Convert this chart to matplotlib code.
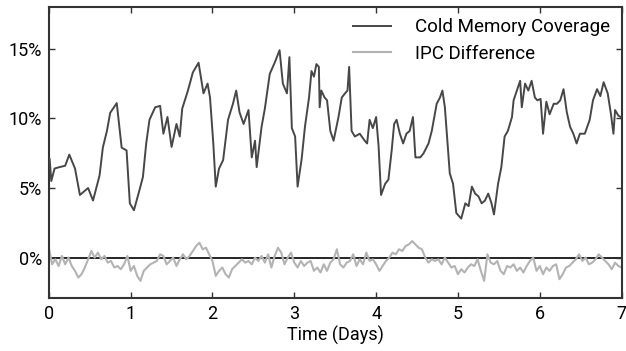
import numpy as np
import matplotlib
matplotlib.use("Agg")
import matplotlib.pyplot as plt
from matplotlib.ticker import FuncFormatter

plt.rcParams['font.family'] = ['Roboto', 'DejaVu Sans']

# Cold Memory Coverage (%): time in days, value in percent
cold_days = [0.00, 0.01, 0.03, 0.07, 0.13, 0.20, 0.25, 0.32, 0.38, 0.48, 0.54, 0.62, 0.66, 0.71, 0.75,
             0.83, 0.89, 0.95, 0.99, 1.04, 1.11, 1.15, 1.19, 1.23, 1.30, 1.36, 1.40, 1.45, 1.50, 1.56,
             1.60, 1.63, 1.70, 1.76, 1.83, 1.87, 1.89, 1.94, 1.97, 2.01, 2.04, 2.08, 2.13, 2.19, 2.25,
             2.29, 2.33, 2.38, 2.44, 2.48, 2.52, 2.54, 2.60, 2.64, 2.70, 2.76, 2.82, 2.86, 2.91, 2.94,
             2.97, 3.01, 3.04, 3.09, 3.13, 3.18, 3.21, 3.24, 3.27, 3.30, 3.31, 3.33, 3.37, 3.40, 3.44,
             3.48, 3.54, 3.58, 3.62, 3.65, 3.67, 3.70, 3.74, 3.80, 3.86, 3.89, 3.92, 3.96, 4.00, 4.03,
             4.06, 4.11, 4.15, 4.19, 4.22, 4.25, 4.29, 4.33, 4.37, 4.41, 4.45, 4.48, 4.54, 4.58, 4.64,
             4.68, 4.74, 4.78, 4.81, 4.84, 4.87, 4.90, 4.94, 4.98, 5.04, 5.09, 5.13, 5.17, 5.21, 5.25,
             5.29, 5.33, 5.37, 5.41, 5.44, 5.49, 5.53, 5.57, 5.61, 5.66, 5.68, 5.72, 5.76, 5.78, 5.82,
             5.86, 5.90, 5.94, 5.97, 6.01, 6.04, 6.08, 6.12, 6.17, 6.21, 6.25, 6.29, 6.33, 6.37, 6.41,
             6.45, 6.49, 6.55, 6.61, 6.65, 6.70, 6.74, 6.78, 6.83, 6.87, 6.90, 6.92, 6.96, 6.99]
cold_values = [7.1, 7.1, 5.5, 6.4, 6.5, 6.6, 7.4, 6.4, 4.5, 5.0, 4.1, 5.9, 7.9, 9.1, 10.4,
               11.1, 7.9, 7.7, 3.9, 3.4, 4.9, 5.8, 8.2, 9.9, 10.8, 10.9, 8.9, 10.1, 7.95, 9.6,
               8.7, 10.7, 12.0, 13.3, 14.0, 12.5, 11.8, 12.5, 11.5, 8.2, 5.1, 6.4, 7.0, 9.9, 11.05,
               12.0, 10.45, 9.6, 10.6, 7.2, 8.4, 6.5, 9.4, 10.7, 13.2, 14.0, 14.9, 12.5, 11.8, 14.4,
               9.3, 8.7, 5.1, 7.1, 9.4, 11.5, 13.4, 13.0, 13.9, 13.7, 10.8, 12.0, 11.5, 11.3, 9.1,
               8.4, 10.1, 11.5, 11.8, 12.0, 13.7, 9.1, 8.7, 8.9, 8.4, 8.2, 9.9, 9.3, 10.1, 8.0,
               4.5, 5.3, 5.6, 7.7, 9.6, 9.9, 8.9, 8.2, 8.9, 9.1, 10.1, 7.2, 7.2, 7.5, 8.2,
               9.1, 11.05, 11.5, 12.0, 10.8, 8.4, 6.05, 5.3, 3.2, 2.8, 3.9, 3.7, 5.1, 4.6, 4.4,
               3.9, 4.1, 4.6, 3.9, 3.1, 5.3, 6.5, 8.7, 9.1, 10.1, 11.3, 12.0, 12.7, 10.8, 12.5,
               12.0, 12.7, 11.5, 11.3, 11.4, 8.9, 11.2, 10.3, 11.05, 11.05, 11.3, 12.1, 10.45, 9.4, 8.9,
               8.2, 8.9, 8.9, 9.9, 11.3, 12.1, 11.6, 12.6, 11.8, 10.3, 8.9, 10.6, 10.2, 10.1]

# IPC Difference (%) at evenly spaced times from day 0 to day 7
ipc_values = [0.71, -0.48, -0.12, -0.60, 0.12, -0.48, 0.00, -0.60, -0.95, -1.43, -1.19, -0.71, -0.12, 0.48, 0.00,
              0.36, -0.12, 0.12, -0.36, -0.24, -0.71, -0.60, -0.83, -0.48, 0.12, -0.95, -0.60, -1.31, -1.67, -0.95,
              -0.71, -0.48, -0.36, -0.24, 0.24, 0.12, -0.48, -0.24, 0.00, -0.60, -0.12, 0.24, -0.12, 0.12, 0.48,
              0.83, 1.07, 0.60, 0.71, 0.24, -0.24, -1.31, -0.95, -0.71, -1.19, -1.43, -0.83, -0.60, -0.36,
              -0.12, -0.36, -0.24, -0.48, 0.00, -0.24, 0.12, -0.36, 0.24, -0.71, 0.12, 0.71, 0.36, -0.48, 0.00,
              0.36, -0.36, -0.71, -0.24, -0.60, -0.36, -0.24, -0.95, -0.71, -1.07, -0.48, -0.95, -0.36, -0.12, 0.60,
              -0.48, -0.71, -0.36, -0.24, 0.24, -0.60, -0.12, -0.48, 0.36, -0.24, -0.12, -0.48, -0.95, -0.60, -0.24,
              0.00, 0.36, 0.24, 0.60, 0.48, 0.83, 0.95, 1.19, 0.95, 0.71, 0.60, 0.00, -0.36, -0.12,
              -0.24, -0.12, -0.48, 0.00, -0.36, -0.71, -0.60, -1.19, -0.83, -1.07, -0.71, -0.48, -0.60, -0.12, -0.95,
              -1.67, 0.24, -0.36, -0.48, -0.24, -0.95, -1.19, -0.60, -0.71, -0.48, -0.95, -0.71, -1.07, -0.60, -0.24,
              0.00, -0.95, -0.60, -1.19, -0.71, -0.95, -0.60, -0.48, -1.55, -1.19, -0.71, -0.60, -0.36, -0.12, 0.24,
              -0.24, 0.00, -0.48, -0.36, -0.12, 0.24, 0.00, -0.24, -0.48, -0.83, -0.36, -0.60, -0.71]
ipc_days = np.linspace(0, 7, len(ipc_values))

x_ticks = [0, 1, 2, 3, 4, 5, 6, 7]
y_ticks = [0, 5, 10, 15]

fig = plt.figure(figsize=(6.26, 3.51), dpi=100)
ax = fig.add_axes([0.078, 0.151, 0.915, 0.829])

ax.axhline(0, color='black', lw=1.2, zorder=1)
ax.plot(cold_days, cold_values, color='#474747', lw=1.4, label='Cold Memory Coverage', zorder=3)
ax.plot(ipc_days, ipc_values, color='#b3b3b3', lw=1.5, label='IPC Difference', zorder=2)

ax.set_xlim(0, 7)
ax.set_ylim(-2.9, 18)
ax.set_xticks(x_ticks)
ax.set_yticks(y_ticks)
ax.yaxis.set_major_formatter(FuncFormatter(lambda v, p: f"{v:.0f}%"))
ax.set_xlabel('Time (Days)', fontsize=13, labelpad=2)
ax.tick_params(direction='in', length=4, width=1, top=True, right=True,
               labelsize=13, color='#333333', pad=5)
for s in ax.spines.values():
    s.set_color('#333333')
    s.set_linewidth(1.5)

leg = ax.legend(loc='upper right', frameon=False, fontsize=13.5, handlelength=2.0,
                handletextpad=1.3, borderaxespad=0.2, labelspacing=0.45)

fig.savefig('out.png', dpi=100)
